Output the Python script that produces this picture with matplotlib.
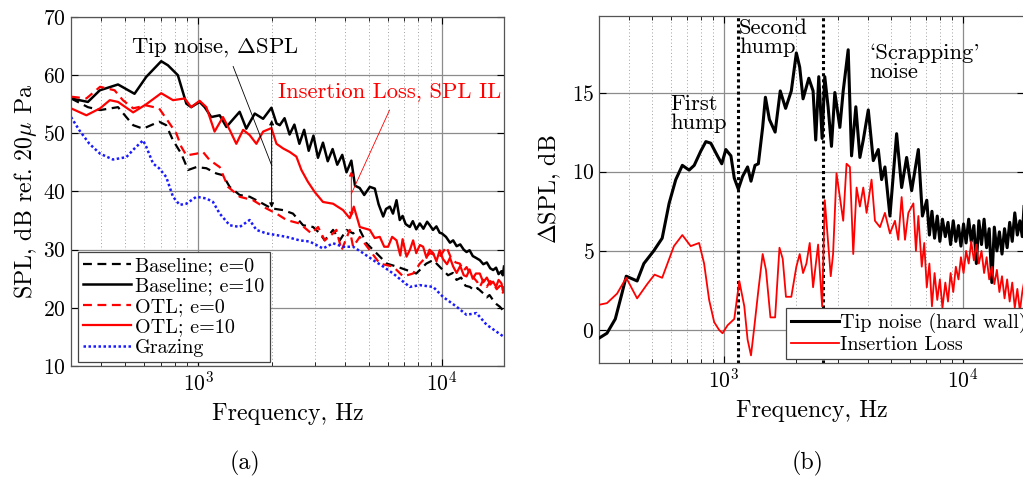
import matplotlib
matplotlib.use("Agg")
import matplotlib.pyplot as plt

plt.rcParams['font.family'] = ['cmr10', 'DejaVu Serif']
plt.rcParams['mathtext.fontset'] = 'cm'
plt.rcParams['axes.formatter.use_mathtext'] = True
plt.rcParams['axes.unicode_minus'] = False

# ---------------- (a) SPL spectra ----------------
base0_f = [300, 352, 395, 468, 506, 540, 593, 690, 738, 787, 851, 908, 982, 1079, 1186, 1262, 1345, 1478,
           1625, 1787, 1996, 2230, 2448, 2692, 2958, 3155, 3304, 3575, 3810, 4058, 4321, 4603, 4903, 5388,
           5945, 6515, 7161, 7850, 8630, 9212, 10100, 10600, 11100, 11490, 12000, 12500, 13030, 13600,
           14000, 14790, 15300, 15700, 16240, 16800, 17300, 17800, 18000]
base0_v = [56.0, 54.5, 54.0, 54.5, 52.8, 51.4, 50.8, 52.0, 51.4, 48.8, 46.5, 43.7, 44.2, 44.0, 43.1, 42.8,
           40.8, 39.4, 39.1, 38.2, 37.1, 36.8, 36.2, 34.2, 33.9, 32.8, 31.6, 33.4, 31.6, 33.4, 32.8, 33.4,
           31.1, 29.4, 27.6, 27.1, 26.5, 25.9, 27.6, 28.2, 26.5, 25.6, 26.0, 24.8, 25.2, 23.8, 23.6, 23.0,
           23.4, 22.5, 21.8, 22.2, 21.3, 20.6, 20.2, 19.6, 19.8]

base10_f = [300, 352, 394, 468, 547, 611, 704, 750, 824, 893, 935, 1012, 1062, 1130, 1224, 1304, 1388,
            1478, 1574, 1705, 1845, 1996, 2094, 2160, 2260, 2370, 2480, 2600, 2720, 2840, 2970, 3100,
            3250, 3400, 3560, 3720, 3900, 4060, 4250, 4400, 4600, 4800, 5060, 5305, 5500, 5743, 5900,
            6117, 6300, 6515, 6717, 6900, 7100, 7385, 7600, 7850, 8123, 8400, 8700, 8927, 9200, 9500,
            9800, 10000, 10400, 10800, 11130, 11500, 11900, 12300, 12630, 13000, 13400, 13800, 14320,
            14800, 15300, 15800, 16240, 16700, 17100, 17580, 17800, 18000]
base10_v = [56.0, 55.4, 57.4, 58.4, 56.8, 59.7, 62.4, 61.7, 60.0, 55.1, 54.5, 55.4, 54.5, 52.8, 53.1,
            51.1, 52.4, 53.7, 50.8, 53.4, 52.5, 54.4, 51.7, 51.4, 52.6, 49.8, 51.5, 48.2, 50.6, 47.0,
            49.6, 45.8, 48.4, 45.2, 47.3, 44.6, 46.3, 43.3, 45.3, 41.0, 40.6, 39.4, 40.8, 40.5, 37.8,
            35.7, 37.0, 37.4, 36.2, 38.5, 35.1, 35.8, 34.4, 33.9, 34.9, 33.5, 34.5, 33.6, 34.8, 34.2,
            33.4, 34.0, 32.9, 32.8, 32.2, 31.2, 31.6, 30.6, 30.9, 30.0, 29.6, 29.9, 28.9, 28.6, 28.2,
            27.5, 27.8, 26.8, 26.5, 26.9, 25.8, 26.3, 25.6, 27.1]

otl0_f = [300, 347, 395, 453, 490, 540, 611, 690, 762, 812, 851, 893, 982, 1045, 1113, 1224, 1324, 1478,
          1677, 1901, 2094, 2302, 2606, 2912, 3104, 3304, 3575, 3690, 3875, 4187, 4321, 4603, 5060, 5562,
          6310, 6937, 7621, 8123, 8927, 9803, 10440, 10900, 11400, 11850, 12300, 12630, 13030, 13500,
          14000, 14320, 14800, 15300, 15800, 16240, 16800, 17300, 17800, 18000]
otl0_v = [56.3, 56.0, 58.0, 57.4, 55.7, 54.3, 54.8, 54.3, 51.7, 50.0, 47.7, 46.2, 46.5, 46.8, 45.4, 44.2,
          40.8, 39.1, 38.5, 37.1, 36.2, 35.1, 34.5, 32.8, 33.9, 31.6, 32.8, 33.4, 29.9, 33.4, 30.5, 32.2,
          29.9, 27.6, 27.1, 25.4, 25.9, 27.6, 29.4, 28.8, 30.5, 28.6, 27.8, 27.6, 26.4, 27.0, 25.9, 25.2,
          24.4, 23.6, 24.8, 23.6, 24.6, 24.2, 23.2, 23.8, 22.6, 23.0]

otl10_f = [300, 347, 395, 433, 468, 540, 611, 704, 787, 879, 935, 1012, 1079, 1166, 1262, 1345, 1432,
           1527, 1625, 1731, 1845, 1996, 2094, 2230, 2373, 2527, 2650, 2815, 3007, 3250, 3575, 3929, 4187,
           4350, 4603, 5060, 5300, 5562, 5800, 6016, 6250, 6515, 6750, 6900, 7161, 7400, 7621, 7850, 8123,
           8380, 8650, 8900, 9212, 9500, 9800, 10100, 10500, 10800, 11130, 11500, 11900, 12300, 12630,
           13000, 13400, 13800, 14320, 14800, 15300, 15800, 16240, 16700, 17100, 17580, 17800, 18000]
otl10_v = [54.3, 53.1, 54.3, 55.7, 55.4, 53.6, 55.0, 56.9, 55.7, 56.0, 54.5, 55.6, 54.5, 50.3, 52.8, 50.6,
           48.2, 50.6, 49.7, 48.2, 50.3, 50.9, 48.2, 47.4, 46.8, 46.0, 43.7, 41.7, 39.9, 38.2, 37.9, 36.8,
           35.4, 37.4, 33.9, 33.4, 32.0, 32.2, 30.5, 30.5, 32.2, 31.6, 29.0, 31.8, 28.8, 30.0, 31.6, 29.4,
           30.8, 30.5, 28.6, 30.0, 29.4, 28.0, 29.9, 28.4, 27.5, 28.6, 27.1, 26.0, 27.2, 25.6, 25.4, 26.6,
           25.0, 25.9, 25.9, 24.4, 25.2, 24.0, 24.5, 23.6, 24.8, 24.2, 23.0, 23.5]

graz_f = [300, 325, 357, 395, 446, 506, 547, 593, 611, 652, 690, 738, 787, 838, 893, 982, 1079, 1149, 1224,
          1345, 1478, 1625, 1731, 1901, 2094, 2302, 2606, 2867, 3250, 3575, 3929, 4321, 4752, 5225, 5743,
          6310, 6937, 7385, 8123, 9212, 10100, 11490, 12630, 13880, 15260, 16770, 18000]
graz_v = [52.8, 50.5, 48.2, 46.5, 45.5, 45.9, 47.4, 48.8, 47.7, 44.8, 44.0, 42.5, 39.1, 37.7, 37.9, 39.1,
          38.8, 38.2, 36.2, 34.2, 33.9, 35.1, 33.4, 32.8, 32.5, 32.2, 31.6, 31.4, 30.2, 31.1, 30.5, 30.5,
          29.4, 28.2, 27.1, 25.9, 24.5, 23.6, 23.9, 23.6, 21.9, 20.2, 18.8, 19.1, 17.1, 15.9, 15.0]

# ---------------- (b) Delta SPL ----------------
tip_f = [300, 323, 350, 373, 389, 432, 461, 507, 550, 588, 627, 668, 713, 749, 798, 838, 879, 937, 977,
         1016, 1067, 1102, 1146, 1194, 1253, 1295, 1346, 1390, 1449, 1488, 1546, 1634, 1717, 1808, 1910,
         2005, 2071, 2139, 2261, 2356, 2417, 2489, 2571, 2637, 2723, 2813, 2906, 3050, 3150, 3305, 3414,
         3558, 3700, 3822, 4012, 4210, 4418, 4562, 4710, 4943, 5272, 5533, 5806, 6093, 6500, 6760, 7050,
         7230, 7410, 7600, 7800, 8000, 8200, 8430, 8650, 8870, 9100, 9330, 9570, 9800, 10050, 10300,
         10560, 10820, 11100, 11370, 11650, 11950, 12250, 12550, 12870, 13200, 13520, 13860, 14200,
         14560, 14920, 15300, 15680, 16070, 16470, 16880, 17300, 17700, 18000]
tip_v = [-0.5, -0.2, 0.7, 2.3, 3.4, 3.1, 4.2, 5.0, 5.8, 8.0, 9.5, 10.4, 10.1, 10.4, 11.3, 11.9, 11.8, 11.0,
         10.5, 11.4, 11.0, 9.6, 8.9, 9.7, 10.3, 9.4, 10.4, 10.5, 12.8, 14.7, 13.3, 12.5, 15.1, 14.0, 15.1,
         17.5, 16.6, 14.6, 15.9, 15.1, 12.0, 16.0, 12.1, 16.0, 14.1, 11.6, 15.0, 12.8, 15.1, 17.7, 11.0,
         14.1, 10.9, 12.0, 13.9, 10.7, 11.4, 9.5, 10.3, 7.2, 12.4, 9.0, 10.9, 8.8, 11.4, 7.2, 8.2, 6.0,
         7.5, 5.8, 7.2, 5.6, 7.0, 5.9, 6.8, 5.4, 6.9, 5.6, 6.6, 5.3, 6.7, 5.5, 7.0, 5.6, 6.6, 4.2, 6.9,
         5.4, 7.0, 5.2, 6.4, 3.0, 6.5, 5.0, 6.2, 4.8, 6.4, 5.2, 6.8, 5.6, 7.4, 6.0, 6.9, 5.9, 7.8]

il_f = [300, 323, 356, 389, 432, 476, 511, 550, 616, 668, 724, 785, 824, 865, 908, 953, 984, 1033, 1102,
        1157, 1214, 1253, 1295, 1337, 1390, 1449, 1496, 1562, 1634, 1704, 1758, 1814, 1910, 2005, 2071,
        2139, 2209, 2281, 2356, 2473, 2571, 2637, 2705, 2793, 2857, 2953, 3050, 3150, 3253, 3360, 3470,
        3584, 3700, 3822, 3946, 4140, 4278, 4490, 4710, 4943, 5189, 5356, 5533, 5715, 5903, 6196, 6350,
        6500, 6717, 6880, 7050, 7230, 7410, 7600, 7800, 8000, 8200, 8430, 8650, 8870, 9100, 9330, 9570,
        9800, 10050, 10300, 10560, 10820, 11100, 11370, 11650, 11950, 12250, 12550, 12870, 13200, 13520,
        13860, 14200, 14560, 14920, 15300, 15680, 16070, 16470, 16880, 17300, 17700, 18000]
il_v = [1.6, 1.7, 2.3, 3.3, 2.0, 2.9, 3.5, 3.3, 5.3, 6.0, 5.3, 5.5, 4.2, 1.9, 0.5, 0.0, -0.2, 0.3, 0.7,
        3.1, 1.5, -0.6, -1.6, 0.2, 2.5, 4.8, 3.8, 0.8, 0.8, 5.2, 4.5, 2.1, 2.1, 4.0, 4.8, 3.6, 4.2, 5.5,
        2.7, 5.4, 1.5, 8.2, 6.1, 3.4, 4.8, 9.9, 8.4, 6.9, 10.5, 10.3, 4.8, 9.0, 7.8, 9.0, 7.4, 9.5, 6.9,
        6.5, 7.4, 6.1, 6.9, 5.7, 8.4, 5.7, 7.4, 8.0, 5.0, 7.2, 4.0, 5.5, 2.7, 4.2, 1.5, 3.6, 1.9, 3.2,
        1.4, 3.0, 1.8, 3.6, 2.4, 4.0, 3.2, 4.6, 3.6, 5.0, 4.2, 5.6, 4.4, 5.4, 4.2, 5.0, 3.6, 4.6, 3.2,
        4.0, 2.9, 3.8, 2.4, 3.4, 2.0, 3.2, 1.8, 3.0, 1.4, 2.6, 1.2, 2.4, 3.0]

region_f = [1138, 2600]

xlim = (300, 18000)
grid_major = '#8c8c8c'
grid_minor = '#a0a0a0'
LABEL_FS = 17.2
TICK_FS = 15.5
NOTE_FS = 16.3
LEG_FS = 14.5

fig = plt.figure(figsize=(10.23, 4.92), dpi=100)
ax1 = fig.add_axes([71 / 1023, 126 / 492, 433 / 1023, 349 / 492])
ax2 = fig.add_axes([599.3 / 1023, 129 / 492, 424.7 / 1023, 347.3 / 492])


def style_axes(ax):
    ax.set_xscale('log')
    ax.set_xlim(*xlim)
    ax.grid(True, which='major', color=grid_major, lw=0.9, ls='-')
    ax.grid(True, which='minor', color=grid_minor, lw=0.7, ls=(0, (1, 2.5)))
    ax.set_axisbelow(True)
    ax.tick_params(which='both', direction='in', top=True, right=True, labelsize=TICK_FS)
    ax.tick_params(which='major', length=5)
    ax.tick_params(which='minor', length=3)
    for s in ax.spines.values():
        s.set_color('#555555')
        s.set_linewidth(0.9)
    ax.set_xlabel('Frequency, Hz', fontsize=LABEL_FS, labelpad=6)


style_axes(ax1)
ax1.plot(base0_f, base0_v, color='k', ls=(0, (4, 2.5)), lw=1.6, label='Baseline; e=0')
ax1.plot(base10_f, base10_v, color='k', ls='-', lw=1.8, label='Baseline; e=10')
ax1.plot(otl0_f, otl0_v, color='red', ls=(0, (4, 2.5)), lw=1.6, label='OTL; e=0')
ax1.plot(otl10_f, otl10_v, color='red', ls='-', lw=1.6, label='OTL; e=10')
ax1.plot(graz_f, graz_v, color='#1a1aff', ls=(0, (1, 1)), lw=1.8, label='Grazing')
ax1.set_ylim(10, 70)
ax1.set_yticks([10, 20, 30, 40, 50, 60, 70])
ax1.set_ylabel(r'SPL, dB ref. 20$\mu$ Pa', fontsize=LABEL_FS, labelpad=3)
leg1 = ax1.legend(loc='lower left', bbox_to_anchor=(0.016, 0.0115), borderaxespad=0, fontsize=LEG_FS,
                  fancybox=False, edgecolor='#444444', framealpha=1, handlelength=2.4,
                  labelspacing=0.12, borderpad=0.25, handletextpad=0.2)
leg1.get_frame().set_linewidth(0.9)

# annotations (a)
ax1.annotate('', xy=(2000, 52.3), xytext=(2000, 37.2),
             arrowprops=dict(arrowstyle='<|-|>', color='k', lw=0.7, shrinkA=0, shrinkB=0, mutation_scale=7))
ax1.plot([1390, 2000], [61.5, 44.5], color='k', lw=0.6)
ax1.text(1167, 64.8, r'Tip noise, $\Delta$SPL', fontsize=NOTE_FS, ha='center', va='center', color='k')
ax1.annotate('', xy=(4250, 43.5), xytext=(4250, 35.6),
             arrowprops=dict(arrowstyle='<|-|>', color='red', lw=0.7, shrinkA=0, shrinkB=0, mutation_scale=7))
ax1.plot([6100, 4250], [54.0, 39.6], color='red', lw=0.6)
ax1.text(6080, 57.1, 'Insertion Loss, SPL IL', fontsize=NOTE_FS, ha='center', va='center', color='red')

# ---------------- (b) ----------------
style_axes(ax2)
for xv in region_f:
    ax2.axvline(xv, color='k', ls=(0, (1, 1)), lw=2.2, zorder=2)
ax2.plot(tip_f, tip_v, color='k', lw=2.2, label='Tip noise (hard wall)', zorder=3)
ax2.plot(il_f, il_v, color='red', lw=1.3, label='Insertion Loss', zorder=3)
ax2.set_ylim(-2.08, 19.85)
ax2.set_yticks([0, 5, 10, 15])
ax2.set_ylabel(r'$\Delta$SPL, dB', fontsize=LABEL_FS, labelpad=6)
leg2 = ax2.legend(loc='lower left', bbox_to_anchor=(0.4396, 0.0115), borderaxespad=0, fontsize=LEG_FS,
                  fancybox=False, edgecolor='#444444', framealpha=1, handlelength=2.4,
                  labelspacing=0.12, borderpad=0.25, handletextpad=0.05)
leg2.get_frame().set_linewidth(0.9)
leg2.set_zorder(5)

ax2.text(597, 14.9, 'First\nhump', fontsize=NOTE_FS, ha='left', va='top', linespacing=1.0)
ax2.text(1153, 19.7, 'Second\nhump', fontsize=NOTE_FS, ha='left', va='top', linespacing=1.0)
ax2.text(4064, 18.1, "`Scrapping'\nnoise", fontsize=NOTE_FS, ha='left', va='top', linespacing=1.0)

fig.text(245 / 1023, 1 - 463 / 492, '(a)', fontsize=LABEL_FS, ha='center', va='center')
fig.text(808 / 1023, 1 - 463 / 492, '(b)', fontsize=LABEL_FS, ha='center', va='center')

fig.savefig('out.png', dpi=100)
